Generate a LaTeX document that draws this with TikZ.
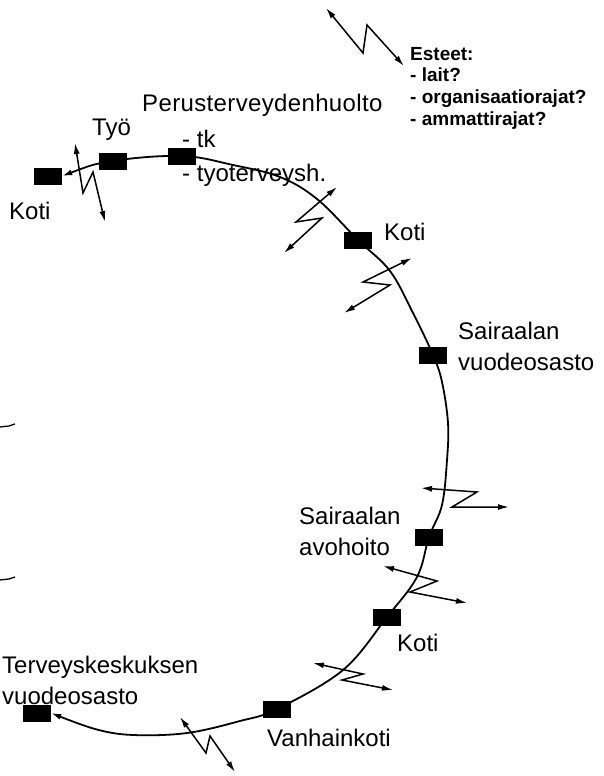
\documentclass[tikz,border=0pt]{standalone}
\usepackage{fontspec}
\setmainfont{Liberation Sans}
\usetikzlibrary{arrows.meta}
\begin{document}
\begin{tikzpicture}[x=1pt,y=-1pt,
  box/.style={fill=black,draw=none,minimum width=28pt,minimum height=17pt,inner sep=0pt},
  lbl/.style={anchor=west,inner sep=0pt,align=left,font=\fontsize{24}{31}\selectfont},
  leg/.style={anchor=west,inner sep=0pt,align=left,font=\fontsize{19}{21.7}\selectfont\bfseries},
  zz/.style={line width=1.5pt,{Latex[length=11pt,width=6pt]}-{Latex[length=11pt,width=6pt]}},
  ring/.style={line width=1.8pt,{Latex[length=10pt,width=6pt]}-{Latex[length=10pt,width=6pt]}}]
\useasboundingbox (0,0) rectangle (604,776);
% boxes
\node[box] (koti1) at (48,176) {};
\node[box] (tyo) at (113,161) {};
\node[box] (perus) at (182,156) {};
\node[box] (koti2) at (358,240) {};
\node[box] (sairv) at (433,355) {};
\node[box] (saira) at (429,537) {};
\node[box] (koti3) at (387,617) {};
\node[box] (vanha) at (277,709) {};
\node[box] (terv) at (37,713) {};
% ring
\draw[ring] plot[smooth,tension=0.6] coordinates {(koti1.east) (tyo.center) (perus.center) (233,165) (280,177) (317,199) (koti2.center) (390,271) (413,313) (sairv.center) (442,382) (448,423) (447,460) (442,505) (saira.center) (417,577) (koti3.center) (343,670) (vanha.center) (240,721) (187,733) (133,735) (95,729) (terv.east)};
% lightning arrows
\draw[zz] (326,8) -- (363,53) -- (367,25) -- (404,66);
\draw[zz] (75,143) -- (83,193) -- (93,172) -- (105,222);
\draw[zz] (337,187) -- (296,222) -- (322,218) -- (284,253);
\draw[zz] (412,258) -- (363,282) -- (390,285) -- (344,313);
\draw[zz] (421,488) -- (477,492) -- (452,507) -- (509,507);
\draw[zz] (383,566) -- (437,581) -- (410,592) -- (467,603);
\draw[zz] (313,663) -- (363,674) -- (342,680) -- (393,690);
\draw[zz] (180,717) -- (206,753) -- (210,736) -- (235,772);
% left edge marks
\draw[line width=1.3pt] (0,427) -- (9,426) -- (15,424);
\draw[line width=1.3pt] (0,580) -- (9,579) -- (15,577);
% labels
\node[lbl,font=\fontsize{24}{31}\selectfont\addfontfeature{LetterSpace=1.5}] (tperus) at (142,105) {Perusterveydenhuolto};
\node[lbl] (ttk) at (182,139) {- tk};
\node[lbl] (ttt) at (182,175) {- tyoterveysh.};
\node[lbl] (ttyo) at (92,130) {Työ};
\node[lbl] (tkoti1) at (9,211) {Koti};
\node[lbl] (tkoti2) at (384,232) {Koti};
\node[lbl] (tsairv) at (458,346) {Sairaalan\\vuodeosasto};
\node[lbl] (tsaira) at (299,531) {Sairaalan\\avohoito};
\node[lbl] (tkoti3) at (397,643) {Koti};
\node[lbl] (tterv) at (2,680) {Terveyskeskuksen\\vuodeosasto};
\node[lbl] (tvanha) at (267,738) {Vanhainkoti};
\node[leg] (legend) at (410,88) {Esteet:\\- lait?\\- organisaatiorajat?\\- ammattirajat?};
\end{tikzpicture}
\end{document}
